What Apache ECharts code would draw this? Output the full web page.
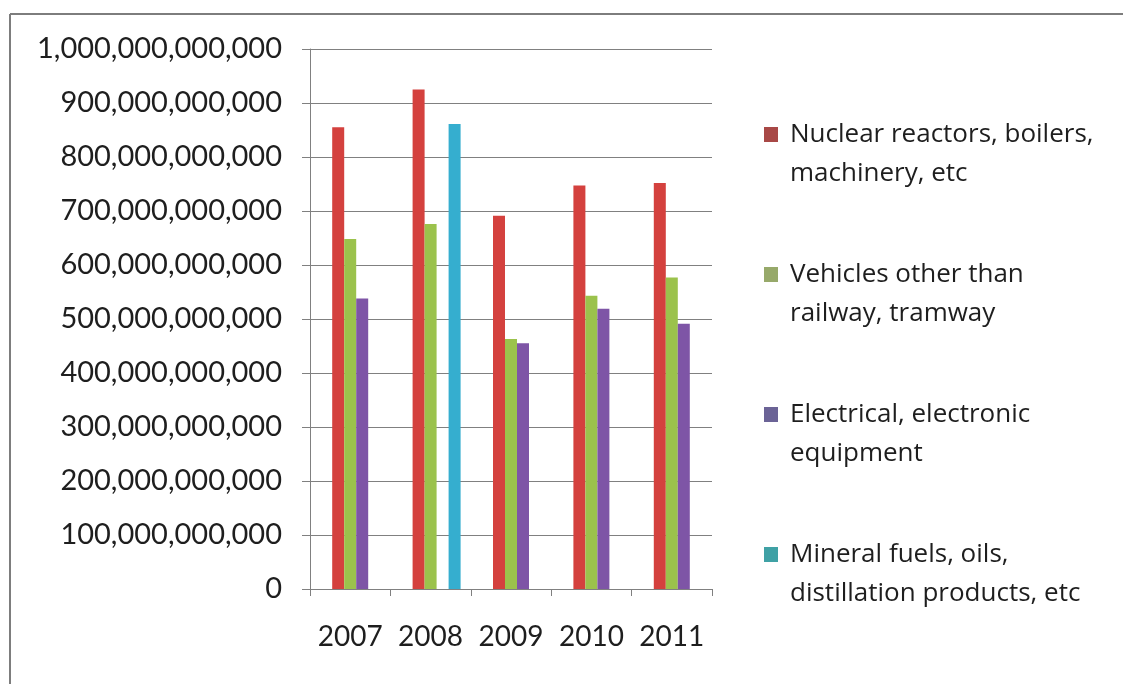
<!DOCTYPE html>
<html>
<head>
<meta charset="utf-8">
<title>Imports by product group, 2007–2011</title>
<script src="https://cdn.jsdelivr.net/npm/echarts@6/dist/echarts.min.js"></script>
<style>
  html, body { margin: 0; padding: 0; background: #ffffff; }
  #chart { width: 1123px; height: 684px; }
</style>
</head>
<body>
<div id="chart"></div>
<script>
// Years on the category axis
const years = ['2007', '2008', '2009', '2010', '2011'];

// Series names
const seriesNames = [
  'Nuclear reactors, boilers, machinery, etc',
  'Vehicles other than railway, tramway',
  'Electrical, electronic equipment',
  'Mineral fuels, oils, distillation products, etc'
];

// Legend text, wrapped over two lines
const legendLines = [
  ['Nuclear reactors, boilers,', 'machinery, etc'],
  ['Vehicles other than', 'railway, tramway'],
  ['Electrical, electronic', 'equipment'],
  ['Mineral fuels, oils,', 'distillation products, etc']
];

// Values per year (null = no bar for that year)
const machinery   = [855e9, 925e9, 691e9, 747e9, 752e9];
const vehicles    = [648e9, 676e9, 463e9, 543e9, 577e9];
const electrical  = [538e9, null,  455e9, 519e9, 491e9];
const mineralFuel = [null,  861e9, null,  null,  null];

// Value axis range and step
const yMin = 0;
const yMax = 1000000000000;
const yStep = 100000000000;

const barColors  = ['#D4413E', '#9BC24C', '#7E55A6', '#35AECF'];
const iconColors = ['#A84846', '#97A96A', '#6B6396', '#3FA1A5'];
const values = [machinery, vehicles, electrical, mineralFuel];

const axisFont = 'Lato, "Liberation Sans", sans-serif';
const legendFont = '"Open Sans", Lato, sans-serif';

const chart = echarts.init(document.getElementById('chart'), null, { renderer: 'canvas' });

const barSeries = seriesNames.map((name, i) => ({
  name: name,
  type: 'bar',
  data: values[i],
  barWidth: 12,
  barGap: '0%',
  itemStyle: { color: barColors[i] }
}));

// empty leading slot so each year's group sits slightly right of its centre
const spacer = {
  name: 'spacer',
  type: 'bar',
  data: years.map(() => null),
  barWidth: 12,
  barGap: '0%',
  silent: true
};

chart.setOption({
  backgroundColor: '#ffffff',
  animation: false,
  graphic: [
    { type: 'line', shape: { x1: 10, y1: 684, x2: 10, y2: 14 },
      style: { stroke: '#7d7d7d', lineWidth: 2 } },
    { type: 'line', shape: { x1: 10, y1: 14, x2: 1123, y2: 14 },
      style: { stroke: '#7d7d7d', lineWidth: 2 } }
  ],
  grid: { left: 310, right: 411, top: 49, bottom: 95, containLabel: false },
  legend: {
    orient: 'vertical',
    left: 764,
    top: 76,
    padding: 0,
    itemWidth: 14,
    itemHeight: 15,
    itemGap: 23,
    icon: 'rect',
    selectedMode: false,
    data: seriesNames.map((n, i) => ({ name: n, itemStyle: { color: iconColors[i] } })),
    // a blank first line keeps the marker level with the first text line
    formatter: (name) => '\n' + legendLines[seriesNames.indexOf(name)].join('\n'),
    textStyle: {
      fontFamily: legendFont,
      fontSize: 26,
      lineHeight: 39,
      color: '#1e1e1e',
      padding: [0, 0, 0, 7]
    }
  },
  xAxis: {
    type: 'category',
    data: years,
    boundaryGap: true,
    axisLine: { show: true, lineStyle: { color: '#808080', width: 1 } },
    axisTick: { show: true, length: 7, lineStyle: { color: '#808080' } },
    axisLabel: { interval: 0, margin: 34, fontFamily: axisFont, fontSize: 28, color: '#1e1e1e' },
    splitLine: { show: false }
  },
  yAxis: {
    type: 'value',
    min: yMin,
    max: yMax,
    interval: yStep,
    axisLine: { show: true, lineStyle: { color: '#808080', width: 1 } },
    axisTick: { show: true, length: 8, lineStyle: { color: '#808080' } },
    axisLabel: {
      margin: 28,
      fontFamily: axisFont,
      fontSize: 29,
      color: '#1e1e1e',
      formatter: (v) => v.toLocaleString('en-US')
    },
    splitLine: { show: true, lineStyle: { color: '#808080', width: 1 } }
  },
  series: [spacer].concat(barSeries)
});
</script>
</body>
</html>
